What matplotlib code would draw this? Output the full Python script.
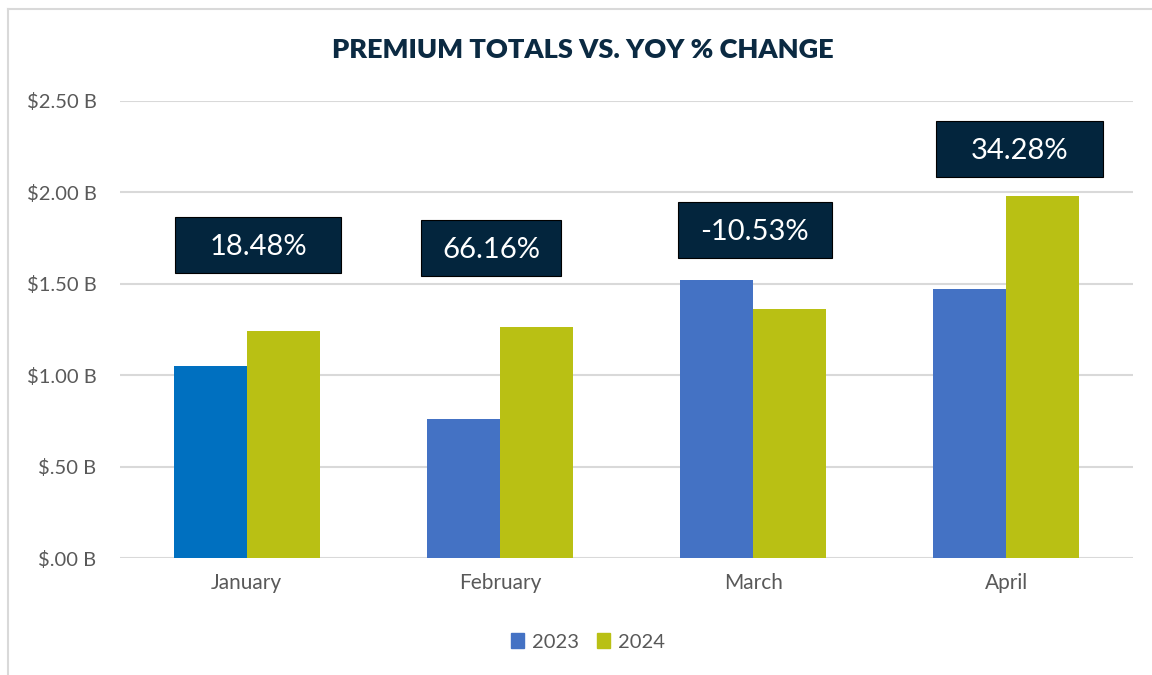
import matplotlib
matplotlib.use("Agg")
import matplotlib.pyplot as plt
from matplotlib.patches import Rectangle
from matplotlib.lines import Line2D
import numpy as np

plt.rcParams['font.family'] = ['Lato', 'DejaVu Sans']

months = ["January", "February", "March", "April"]
prem_2023 = [1.05, 0.76, 1.52, 1.47]
prem_2024 = [1.24, 1.265, 1.36, 1.98]
yoy_labels = ["18.48%", "66.16%", "-10.53%", "34.28%"]
label_y = [1.712, 1.696, 1.794, 2.237]
label_x = [0.045, 0.965, 2.007, 3.052]
label_w = [0.659, 0.556, 0.611, 0.663]
yticks = [0, 0.5, 1.0, 1.5, 2.0, 2.5]
ytick_labels = ["$.00 B", "$.50 B", "$1.00 B", "$1.50 B", "$2.00 B", "$2.50 B"]

c2023 = "#4472C4"
c2023_first = "#0070C0"
c2024 = "#B9C014"
navy = "#03253D"
gray_text = "#595959"
grid_c = "#D9D9D9"

fig = plt.figure(figsize=(11.52, 6.75), dpi=100)
ax = fig.add_axes([120/1152, 1-558/675, (1133-120)/1152, (558-101)/675])

x = np.arange(len(months))
w = 0.288
cols23 = [c2023_first] + [c2023] * (len(months) - 1)
ax.bar(x - w/2, prem_2023, width=w, color=cols23, label="2023", zorder=3)
ax.bar(x + w/2, prem_2024, width=w, color=c2024, label="2024", zorder=3)

ax.set_xlim(-0.5, 3.5)
ax.set_ylim(0, 2.5)
ax.set_yticks(yticks)
ax.set_yticklabels(ytick_labels)
ax.set_xticks(x)
ax.set_xticklabels(months)
ax.tick_params(axis='y', length=0, labelsize=14.5, labelcolor=gray_text, pad=17)
ax.tick_params(axis='x', length=0, labelsize=15, labelcolor=gray_text, pad=11)
ax.grid(axis='y', color=grid_c, linewidth=1.5, zorder=0)
for s in ax.spines.values():
    s.set_visible(False)

box_h = 0.306
for lx, ly, lw, txt in zip(label_x, label_y, label_w, yoy_labels):
    ax.add_patch(Rectangle((lx - lw/2, ly - box_h/2), lw, box_h,
                           facecolor=navy, edgecolor="black", linewidth=0.8, zorder=5))
    ax.text(lx, ly - 0.01, txt, ha="center", va="center", color="white",
            fontsize=21, zorder=6)

fig.text(583/1152, 1-50/675, "PREMIUM TOTALS VS. YOY % CHANGE", ha="center", va="center",
         fontsize=19.5, fontweight="heavy", color="#0B2A42")

handles = [Rectangle((0, 0), 1, 1, color=c2023), Rectangle((0, 0), 1, 1, color=c2024)]
fig.legend(handles, ["2023", "2024"], loc="center", bbox_to_anchor=(588/1152, 1-642/675),
           ncol=2, frameon=False, fontsize=14.5, labelcolor=gray_text,
           handlelength=0.65, handleheight=0.7, handletextpad=0.4, columnspacing=0.9)

fig.add_artist(Line2D([8/1152, 8/1152], [0, 1-9/675], color="#D9D9D9", linewidth=1.5))
fig.add_artist(Line2D([8/1152, 1], [1-9/675, 1-9/675], color="#D9D9D9", linewidth=1.5))

fig.savefig("out.png", dpi=100, facecolor="white")
